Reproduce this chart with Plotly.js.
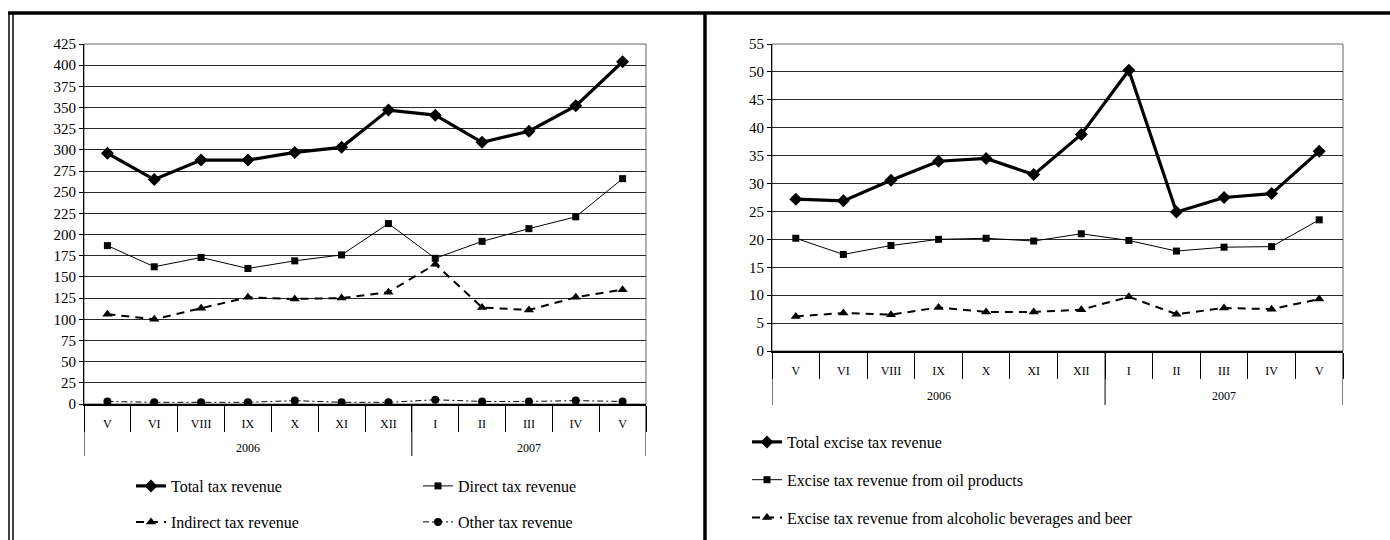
<!DOCTYPE html>
<html>
<head>
<meta charset="utf-8">
<script src="https://cdn.plot.ly/plotly-3.0.1.min.js"></script>
<style>html,body{margin:0;padding:0;background:#fff}#chart{width:1390px;height:540px}</style>
</head>
<body>
<div id="chart"></div>
<script>
// ---- data ----
var years = ["2006","2006","2006","2006","2006","2006","2006","2007","2007","2007","2007","2007"];
var months = ["V","VI","VIII","IX","X","XI","XII","I","II","III","IV","V"];

var totalTax    = [296, 265, 288, 288, 297, 303, 347, 341, 309, 322, 352, 404];
var directTax   = [187, 162, 173, 160, 169, 176, 213, 172, 192, 207, 221, 266];
var indirectTax = [106, 100, 113, 126, 124, 125, 132, 165, 114, 111, 126, 135];
var otherTax    = [3, 2, 2, 2, 4, 2, 2, 5, 3, 3, 4, 3];

var totalExcise   = [27.2, 26.9, 30.6, 34.0, 34.5, 31.6, 38.8, 50.3, 24.9, 27.5, 28.2, 35.8];
var oilExcise     = [20.2, 17.3, 18.9, 20.0, 20.2, 19.7, 21.0, 19.8, 17.9, 18.6, 18.7, 23.5];
var alcoholExcise = [6.2, 6.8, 6.5, 7.8, 7.0, 7.0, 7.4, 9.7, 6.6, 7.7, 7.5, 9.3];

var leftNames  = ["Total tax revenue", "Direct tax revenue", "Indirect tax revenue", "Other tax revenue"];
var rightNames = ["Total excise tax revenue", "Excise tax revenue from oil products", "Excise tax revenue from alcoholic beverages and beer"];

var leftTicks  = [0,25,50,75,100,125,150,175,200,225,250,275,300,325,350,375,400,425];
var rightTicks = [0,5,10,15,20,25,30,35,40,45,50,55];

// ---- derived category positions ----
var idx = months.map(function(_, i){ return i; });
var bounds = months.map(function(_, i){ return i - 0.5; }).concat([months.length - 0.5]);
var yearGroups = [];
years.forEach(function(yv, i){
  var g = yearGroups[yearGroups.length - 1];
  if (!g || g.name !== yv) { yearGroups.push({name:yv, start:i, end:i}); } else { g.end = i; }
});

// ---- layout helpers ----
var W = 1390, H = 540;
function px(x){ return x / W; }
function py(y){ return 1 - y / H; }
var FONT = "Liberation Serif, Times New Roman, serif";

var styles = {
  total:    {line:{color:"#000", width:3.2}, marker:{symbol:"diamond", size:10, color:"#000"}},
  direct:   {line:{color:"#000", width:1},   marker:{symbol:"square", size:7, color:"#000"}},
  indirect: {line:{color:"#000", width:2, dash:"8px,6px"}, marker:{symbol:"triangle-up", size:9, color:"#000"}},
  other:    {line:{color:"#000", width:1, dash:"6px,3px,2px,3px"}, marker:{symbol:"circle", size:8, color:"#000"}}
};

function tr(y, name, st, xa, ya, lg, grp){
  return {type:"scatter", mode:"lines+markers", x:idx, y:y, name:name,
    line:st.line, marker:st.marker, xaxis:xa, yaxis:ya, legend:lg, legendgroup:grp};
}

var data = [
  tr(totalTax,    leftNames[0], styles.total,    "x",  "y",  "legend",  "a"),
  tr(directTax,   leftNames[1], styles.direct,   "x",  "y",  "legend3", "b"),
  tr(indirectTax, leftNames[2], styles.indirect, "x",  "y",  "legend4", "c"),
  tr(otherTax,    leftNames[3], styles.other,    "x",  "y",  "legend5", "d"),
  tr(totalExcise,   rightNames[0], styles.total,    "x2", "y2", "legend2", "e"),
  tr(oilExcise,     rightNames[1], styles.direct,   "x2", "y2", "legend2", "f"),
  tr(alcoholExcise, rightNames[2], styles.indirect, "x2", "y2", "legend2", "g")
];

function xax(dom, anchor, zw){
  return {domain:dom, anchor:anchor, type:"linear", range:[-0.5, months.length - 0.5],
    tickmode:"array", tickvals:idx, ticktext:months, ticks:"", showgrid:false,
    showline:true, linecolor:"#000", linewidth:zw, ticklabelstandoff:8,
    minor:{tickmode:"array", tickvals:bounds, ticks:"outside", ticklen:26, tickcolor:"#000", tickwidth:1, showgrid:false},
    tickfont:{family:FONT, size:12, color:"#000"}, zeroline:false, fixedrange:true};
}
function yax(dom, anchor, rng, tv){
  return {domain:dom, anchor:anchor, range:rng, tickmode:"array", tickvals:tv, showgrid:true,
    gridcolor:"#2a2a2a", gridwidth:1, showline:true, linecolor:"#000", linewidth:1,
    ticks:"outside", ticklen:4, tickcolor:"#000", zeroline:false,
    tickfont:{family:FONT, size:15, color:"#000"}, fixedrange:true};
}

var panels = [
  {xa:"x", ya:"y", x0:84, x1:646, yTop:44, yBot:404, divBot:456, yearY:448},
  {xa:"x2", ya:"y2", x0:772, x1:1343, yTop:44, yBot:351, divBot:405, yearY:396}
];

var shapes = [];
var annotations = [];
panels.forEach(function(p){
  shapes.push({type:"rect", xref:"paper", yref:"paper", x0:px(p.x0), x1:px(p.x1), y0:py(p.yBot), y1:py(p.yTop),
               line:{color:"#666", width:1}, layer:"below"});
  yearGroups.forEach(function(g, gi){
    var b = [g.start - 0.5];
    if (gi === yearGroups.length - 1) b.push(g.end + 0.5);
    b.forEach(function(bx){
      shapes.push({type:"line", xref:p.xa, yref:"paper", x0:bx, x1:bx, y0:py(p.yBot), y1:py(p.divBot),
                   line:{color:"#000", width:1}});
    });
    annotations.push({xref:p.xa, yref:"paper", x:(g.start + g.end) / 2, y:py(p.yearY), text:g.name,
                      showarrow:false, xanchor:"center", yanchor:"middle", font:{family:FONT, size:12, color:"#000"}});
  });
});
// outer borders
shapes.push({type:"line", xref:"paper", yref:"paper", x0:px(8), x1:1, y0:py(13), y1:py(13), line:{color:"#000", width:3.5}});
shapes.push({type:"line", xref:"paper", yref:"paper", x0:px(9), x1:px(9), y0:py(12), y1:0, line:{color:"#000", width:1.5}});
shapes.push({type:"line", xref:"paper", yref:"paper", x0:px(13), x1:px(13), y0:py(14), y1:0, line:{color:"#000", width:1.5}});
shapes.push({type:"line", xref:"paper", yref:"paper", x0:px(705), x1:px(705), y0:py(13), y1:0, line:{color:"#000", width:3.5}});

function lg(xp, yc, extra){
  var o = {x:px(xp), y:py(yc - 14), xanchor:"left", yanchor:"top", orientation:"v",
           font:{family:FONT, size:16, color:"#000"}, bgcolor:"rgba(0,0,0,0)"};
  for (var k in (extra || {})) o[k] = extra[k];
  return o;
}

var layout = {
  width:W, height:H, margin:{l:0,r:0,t:0,b:0}, paper_bgcolor:"#fff", plot_bgcolor:"#fff",
  font:{family:FONT, color:"#000"},
  xaxis:  xax([px(84), px(646)], "y", 2),
  yaxis:  yax([py(404), py(44)], "x", [0, 425], leftTicks),
  xaxis2: xax([px(772), px(1343)], "y2", 1.5),
  yaxis2: yax([py(351), py(44)], "x2", [0, 55], rightTicks),
  legend:  lg(131, 483),
  legend3: lg(418, 483),
  legend4: lg(131, 519),
  legend5: lg(418, 519),
  legend2: lg(747, 439, {tracegroupgap:14}),
  showlegend:true,
  shapes:shapes,
  annotations:annotations
};

Plotly.newPlot("chart", data, layout, {displayModeBar:false, staticPlot:true});
</script>
</body>
</html>
